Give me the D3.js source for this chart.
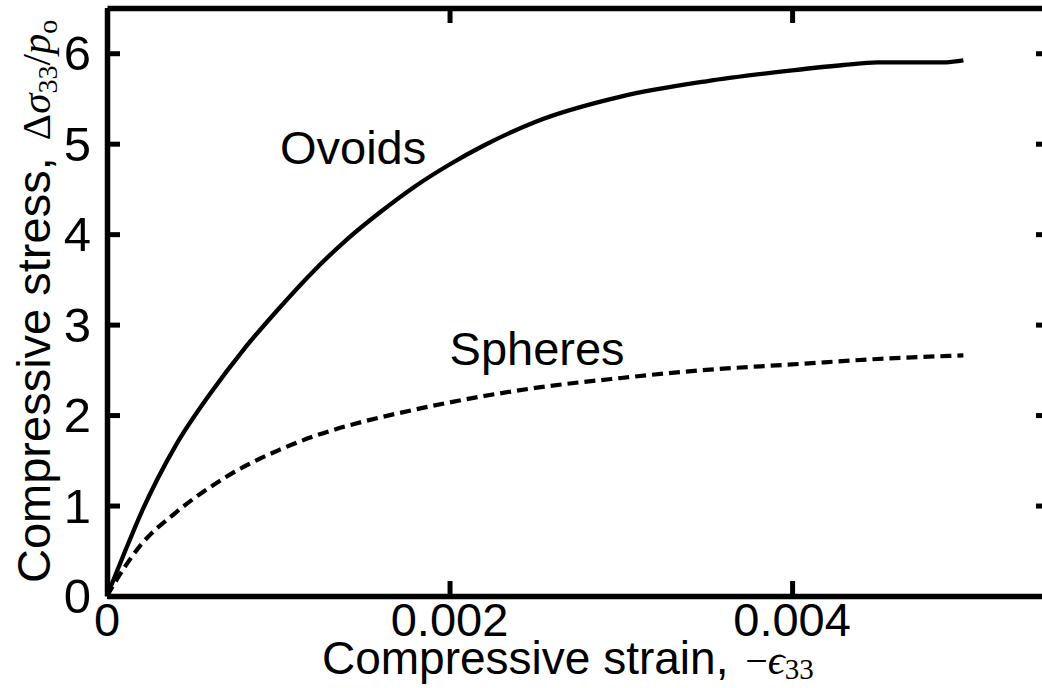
<!DOCTYPE html>
<html>
<head>
<meta charset="utf-8">
<script src="https://cdn.jsdelivr.net/npm/d3@7"></script>
<style>
  html, body { margin: 0; padding: 0; background: #fff; }
  svg { display: block; overflow: hidden; }
  .sans { font-family: "Liberation Sans", Arial, sans-serif; }
  .math { font-family: "Liberation Serif", "DejaVu Serif", serif; }
</style>
</head>
<body>
<svg id="chart" width="1042" height="688"></svg>
<script>
// compressive strain (-eps33) vs compressive stress (dsigma33 / p_o)
const ovoidStrain  = [0, 0.0001, 0.0002, 0.0004, 0.0006, 0.0008, 0.001, 0.0012, 0.0014, 0.0016, 0.0018, 0.002, 0.0022, 0.0025, 0.003, 0.0035, 0.004, 0.0043, 0.0045, 0.0047, 0.0049, 0.005]
const ovoidStress  = [0, 0.47, 0.92, 1.66, 2.23, 2.73, 3.17, 3.58, 3.94, 4.25, 4.53, 4.77, 4.98, 5.24, 5.52, 5.69, 5.81, 5.87, 5.90, 5.90, 5.90, 5.92]
const sphereStrain = [0, 0.0001, 0.0002, 0.0004, 0.0006, 0.0008, 0.001, 0.0012, 0.0015, 0.0017, 0.002, 0.0025, 0.003, 0.0035, 0.004, 0.0045, 0.005]
const sphereStress = [0, 0.31, 0.57, 0.92, 1.20, 1.43, 1.61, 1.76, 1.93, 2.02, 2.14, 2.30, 2.41, 2.50, 2.56, 2.62, 2.66]

const xTicks = [0, 0.002, 0.004]
const xTickLabels = ["0", "0.002", "0.004"]
const yTicks = [0, 1, 2, 3, 4, 5, 6]

const curveNames = ["Ovoids", "Spheres"]
const labelStrain = [0.00101, 0.002]
const labelStress = [4.78, 2.55]

var margin = {top: 8, left: 107},
    plotW = 942,
    plotH = 588

const svg = d3.select("#chart")
const g = svg.append("g")
    .attr("transform", "translate(" + margin.left + "," + margin.top + ")")

var x = d3.scaleLinear().domain([0, 0.0055]).range([0, plotW])
var y = d3.scaleLinear().domain([0, 6.5]).range([plotH, 0])

const valueLine = d3.line()
    .x(function (d) {return x(d[0]);})
    .y(function (d) {return y(d[1]);})
    .curve(d3.curveMonotoneX)

const ovoids = ovoidStrain.map((v, i) => [v, ovoidStress[i]])
const spheres = sphereStrain.map((v, i) => [v, sphereStress[i]])

g.append("path").datum(ovoids)
    .attr("d", valueLine)
    .attr("fill", "none").attr("stroke", "#000").attr("stroke-width", 4.3)

g.append("path").datum(spheres)
    .attr("d", valueLine)
    .attr("fill", "none").attr("stroke", "#000").attr("stroke-width", 4.2)
    .attr("stroke-dasharray", "11,6")

// axes, ticks pointing inward
function styleAxis(sel) {
    sel.select(".domain").attr("stroke", "#000").attr("stroke-width", 5.5)
    sel.selectAll(".tick line").attr("stroke", "#000").attr("stroke-width", 5)
    sel.selectAll("text").remove()
}

g.append("g").attr("transform", "translate(0," + plotH + ")")
    .call(d3.axisBottom(x).tickValues(xTicks).tickSizeInner(-15).tickSizeOuter(0))
    .call(styleAxis)
g.append("g")
    .call(d3.axisTop(x).tickValues(xTicks).tickSizeInner(-15).tickSizeOuter(0))
    .call(styleAxis)
g.append("g")
    .call(d3.axisLeft(y).tickValues(yTicks).tickSizeInner(-13).tickSizeOuter(0))
    .call(styleAxis)
g.append("g").attr("transform", "translate(" + plotW + ",0)")
    .call(d3.axisRight(y).tickValues(yTicks).tickSizeInner(-13).tickSizeOuter(0))
    .call(styleAxis)

// tick labels
g.selectAll(".xlab").data(xTicks).enter().append("text")
    .attr("class", "sans")
    .attr("x", d => x(d)).attr("y", plotH + 40)
    .attr("text-anchor", "middle")
    .attr("font-size", 47)
    .text((d, i) => xTickLabels[i])

g.selectAll(".ylab").data(yTicks).enter().append("text")
    .attr("class", "sans")
    .attr("x", -16).attr("y", d => y(d) + 17)
    .attr("text-anchor", "end")
    .attr("font-size", 49)
    .text(d => d)

// curve labels
g.selectAll(".clab").data(curveNames).enter().append("text")
    .attr("class", "sans")
    .attr("x", (d, i) => x(labelStrain[i]))
    .attr("y", (d, i) => y(labelStress[i]))
    .attr("font-size", 47)
    .text(d => d)

// x title
const xt = svg.append("text").attr("class", "sans")
    .attr("x", 322).attr("y", 674)
    .attr("font-size", 46)
xt.append("tspan").text("Compressive strain, ")
xt.append("tspan").attr("class", "math").attr("font-size", 40).attr("dx", 4).text("\u2212")
xt.append("tspan").attr("class", "math").attr("font-size", 42).attr("font-style", "italic").text("\u03f5")
xt.append("tspan").attr("class", "math").attr("font-size", 29).attr("dy", 5).text("33")

// y title
const yt = svg.append("text").attr("class", "sans")
    .attr("transform", "translate(50,583) rotate(-90)")
    .attr("font-size", 47)
yt.append("tspan").text("Compressive stress, ")
yt.append("tspan").attr("class", "math").attr("font-size", 41).attr("dx", 4).text("\u0394")
yt.append("tspan").attr("class", "math").attr("font-size", 41).attr("font-style", "italic").text("\u03c3")
yt.append("tspan").attr("class", "math").attr("font-size", 28).attr("dy", 7).text("33")
yt.append("tspan").attr("class", "math").attr("font-size", 41).attr("dy", -7).text("/")
yt.append("tspan").attr("class", "math").attr("font-size", 41).attr("font-style", "italic").text("p")
yt.append("tspan").attr("class", "math").attr("font-size", 28).attr("dy", 7).text("o")
</script>
</body>
</html>
